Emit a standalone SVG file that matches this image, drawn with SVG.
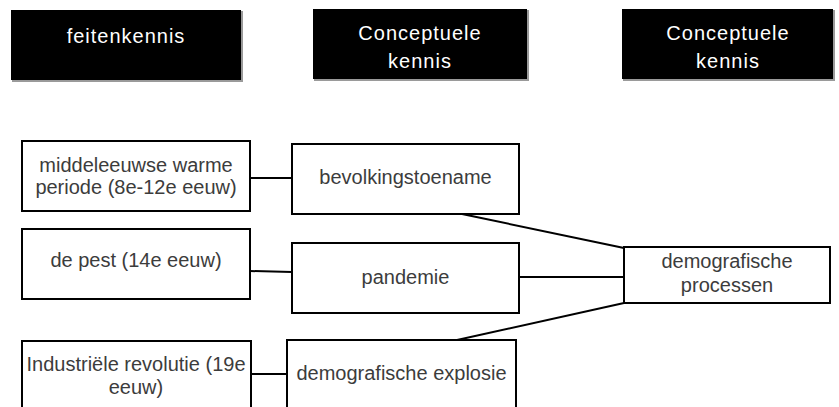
<svg xmlns="http://www.w3.org/2000/svg" width="839" height="407" viewBox="0 0 839 407">
<style>
.hdr{fill:#000;}
.shd{fill:#9a9a9a;}
.ht{font-family:"Liberation Sans",Arial,sans-serif;font-size:20px;fill:#fff;text-anchor:middle;letter-spacing:1px;}
.box{fill:#fff;stroke:#000;stroke-width:2;}
.bt{font-family:"Liberation Sans",Arial,sans-serif;font-size:20px;fill:#3c3c3c;text-anchor:middle;}
.con line{stroke:#000;stroke-width:2;}
</style>
<rect width="839" height="407" fill="#fff"/>
<g id="hdr-feitenkennis">
<rect class="shd" x="12" y="11" width="231" height="71"/>
<rect class="hdr" x="11" y="10" width="230" height="70"/>
<text class="ht" x="126" y="43" letter-spacing="1.6">feitenkennis</text>
</g>
<g id="hdr-conceptueel-1">
<rect class="shd" x="314" y="10" width="215" height="71"/>
<rect class="hdr" x="313" y="9" width="214" height="70"/>
<text class="ht" x="420" y="40">Conceptuele</text>
<text class="ht" x="420" y="68">kennis</text>
</g>
<g id="hdr-conceptueel-2">
<rect class="shd" x="623" y="10" width="212" height="71"/>
<rect class="hdr" x="622" y="9" width="211" height="70"/>
<text class="ht" x="728" y="40">Conceptuele</text>
<text class="ht" x="728" y="68">kennis</text>
</g>
<g class="con" id="connectors">
<line x1="250" y1="178" x2="292" y2="178"/>
<line x1="250" y1="271" x2="292" y2="272"/>
<line x1="251" y1="374" x2="287" y2="374"/>
<line x1="462" y1="214" x2="624" y2="248"/>
<line x1="519" y1="277" x2="624" y2="277"/>
<line x1="457" y1="340" x2="624" y2="303"/>
</g>
<g id="middeleeuwse">
<rect class="box" x="22" y="141" width="228" height="70"/>
<text class="bt" x="136" y="172">middeleeuwse warme</text>
<text class="bt" x="136" y="194">periode (8e-12e eeuw)</text>
</g>
<g id="bevolkingstoename">
<rect class="box" x="292" y="144" width="227" height="70"/>
<text class="bt" x="405.5" y="184">bevolkingstoename</text>
</g>
<g id="pest">
<rect class="box" x="22" y="229" width="228" height="70"/>
<text class="bt" x="136" y="267">de pest (14e eeuw)</text>
</g>
<g id="pandemie">
<rect class="box" x="292" y="243" width="227" height="70"/>
<text class="bt" x="405.5" y="284">pandemie</text>
</g>
<g id="industriele">
<rect class="box" x="22" y="341" width="229" height="80"/>
<text class="bt" x="136" y="371">Industriële revolutie (19e</text>
<text class="bt" x="136" y="394">eeuw)</text>
</g>
<g id="explosie">
<rect class="box" x="287" y="340" width="229" height="80"/>
<text class="bt" x="401.5" y="380">demografische explosie</text>
</g>
<g id="processen">
<rect class="box" x="624" y="247" width="206" height="56"/>
<text class="bt" x="727" y="268">demografische</text>
<text class="bt" x="727" y="292">processen</text>
</g>
</svg>
